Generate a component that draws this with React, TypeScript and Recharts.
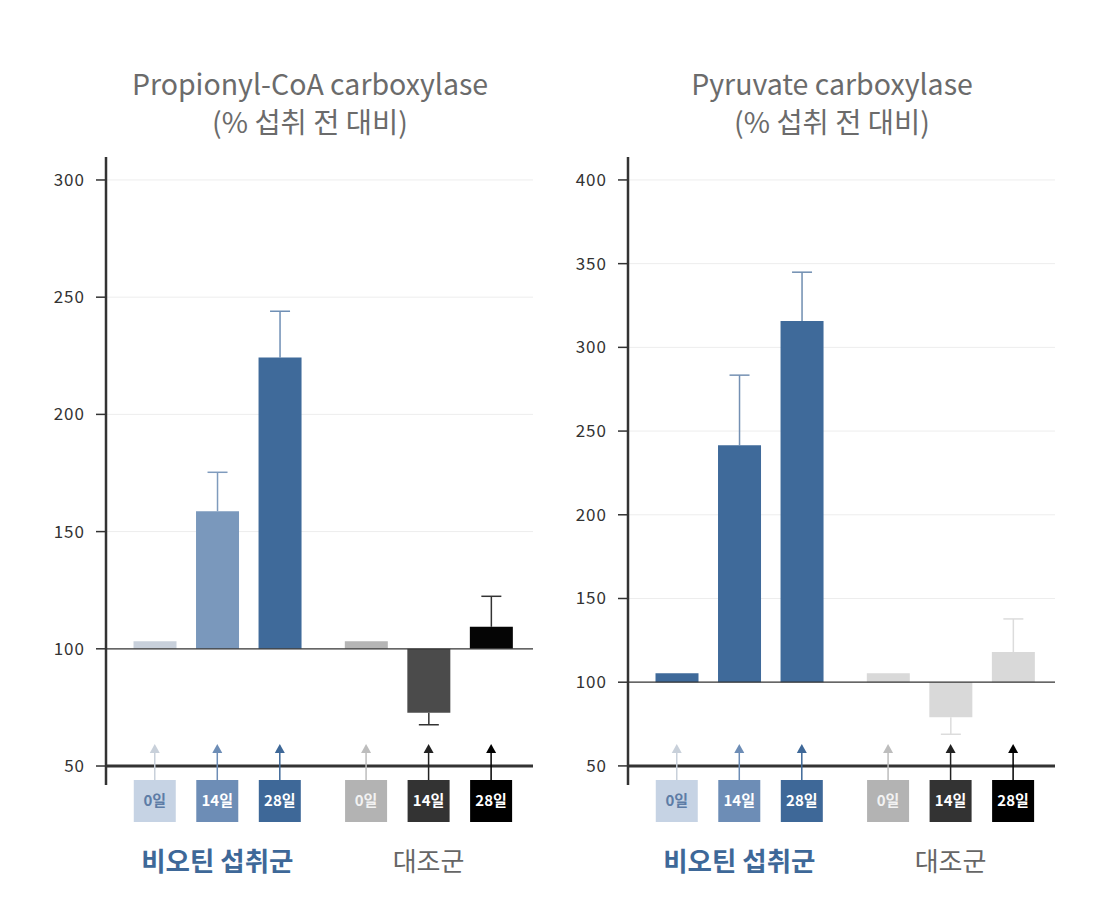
import React from "react";
import {
  BarChart,
  Bar,
  XAxis,
  YAxis,
  CartesianGrid,
  ReferenceLine,
  Cell,
} from "recharts";

const days = ["0일", "14일", "28일"];
const groups = ["비오틴 섭취군", "대조군"];

const propionylValues = [103.2, 158.7, 224.3, 103.2, 72.7, 109.4];
const propionylErrors = [0, 16.6, 19.7, 0, 5.1, 13.0];
const propionylTicks = [50, 100, 150, 200, 250, 300];

const pyruvateValues = [105.4, 241.6, 315.7, 105.4, 79.1, 118.0];
const pyruvateErrors = [0, 41.8, 29.2, 0, 10.2, 19.8];
const pyruvateTicks = [50, 100, 150, 200, 250, 300, 350, 400];

const BASE = 100;
const GROUP_STEP = 3.38;
const X_DOMAIN: [number, number] = [-0.78, 2 + GROUP_STEP + 0.67];
const FONT = "'Noto Sans CJK KR', 'Noto Sans', sans-serif";

const boxColors = ["#c6d3e4", "#6d8db6", "#3e6898", "#b3b3b3", "#333333", "#000000"];
const boxTextColors = ["#5d7ca6", "#ffffff", "#ffffff", "#f2f2f2", "#ffffff", "#ffffff"];
const arrowColors = ["#c8d0da", "#6d8db6", "#3e6898", "#bdbdbd", "#222222", "#000000"];

const buildRows = (values: number[], errors: number[]) =>
  values.map((v, i) => {
    const g = Math.floor(i / days.length);
    const d = i % days.length;
    const e = errors[i];
    return {
      idx: i,
      pos: g * GROUP_STEP + d,
      day: days[d],
      up: v >= BASE,
      range: [BASE, v],
      errRange: e > 0 ? [v, v >= BASE ? v + e : v - e] : null,
    };
  });

const DayTick = (props: any) => {
  const { x, y, index } = props;
  const g = Math.floor(index / days.length);
  const d = index % days.length;
  return (
    <g>
      <line x1={x} x2={x} y1={y - 4} y2={y - 33} stroke={arrowColors[index]} strokeWidth={1.5} />
      <path
        d={`M${x - 5},${y - 32} L${x},${y - 41} L${x + 5},${y - 32} Z`}
        fill={arrowColors[index]}
      />
      <rect x={x - 21} y={y - 5} width={42} height={42} fill={boxColors[index]} />
      <text
        x={x}
        y={y + 21}
        textAnchor="middle"
        fontSize={15}
        fontWeight={700}
        fontFamily={FONT}
        fill={boxTextColors[index]}
      >
        {days[d]}
      </text>
      {d === 1 && (
        <text
          x={x}
          y={y + 86}
          textAnchor="middle"
          fontSize={g === 0 ? 26.5 : 26}
          fontWeight={g === 0 ? 700 : 400}
          fontFamily={FONT}
          fill={g === 0 ? "#3e6898" : "#666666"}
        >
          {groups[g]}
        </text>
      )}
    </g>
  );
};

const ValueTick = (props: any) => {
  const { x, y, payload } = props;
  return (
    <text
      x={x}
      y={y}
      dy={6}
      textAnchor="end"
      fontSize={17}
      letterSpacing={1}
      fontFamily={FONT}
      fill="#333333"
    >
      {payload.value}
    </text>
  );
};

// whisker + cap drawn from the bar geometry of the error range
const makeWhisker = (errorColors: string[]) => (props: any) => {
  const { x, y, width, height, payload } = props;
  if (!payload || !payload.errRange || width == null) return <g />;
  const cx = x + width / 2;
  const y0 = Math.min(y, y + height);
  const y1 = Math.max(y, y + height);
  const capY = payload.up ? y0 : y1;
  const color = errorColors[payload.idx];
  return (
    <g>
      <line x1={cx} x2={cx} y1={y0} y2={y1} stroke={color} strokeWidth={1.5} />
      <line x1={cx - 10} x2={cx + 10} y1={capY} y2={capY} stroke={color} strokeWidth={1.5} />
    </g>
  );
};

type PanelProps = {
  left: number;
  title: string;
  values: number[];
  errors: number[];
  ticks: number[];
  domain: [number, number];
  barColors: string[];
  errorColors: string[];
};

const titleStyle: React.CSSProperties = {
  position: "absolute",
  width: 400,
  textAlign: "center",
  fontFamily: FONT,
  fontSize: 28.5,
  lineHeight: "34px",
  color: "#6b6b6b",
  whiteSpace: "nowrap",
};

const Panel = ({ left, title, values, errors, ticks, domain, barColors, errorColors }: PanelProps) => {
  const rows = buildRows(values, errors);
  return (
    <>
      <div style={{ ...titleStyle, left: left + 70, top: 66 }}>{title}</div>
      <div style={{ ...titleStyle, left: left + 70, top: 104 }}>(% 섭취 전 대비)</div>
      <div style={{ position: "absolute", left, top: 127 }}>
        <BarChart
          width={500}
          height={780}
          data={rows}
          margin={{ top: 30, right: 7, left: 0, bottom: 22 }}
        >
          <CartesianGrid
            vertical={false}
            horizontalValues={ticks.filter((t) => t > BASE)}
            stroke="#ededed"
          />
          <XAxis
            dataKey="pos"
            type="number"
            domain={X_DOMAIN}
            ticks={rows.map((r) => r.pos)}
            interval={0}
            axisLine={false}
            tickLine={false}
            tickSize={0}
            tickMargin={0}
            height={100}
            tick={<DayTick />}
          />
          <XAxis xAxisId="err" dataKey="pos" type="number" domain={X_DOMAIN} hide />
          <YAxis
            type="number"
            domain={domain}
            ticks={ticks}
            interval={0}
            width={66}
            allowDataOverflow
            axisLine={{ stroke: "#333333", strokeWidth: 2.5 }}
            tickLine={{ stroke: "#333333", strokeWidth: 1.5 }}
            tickSize={10}
            tickMargin={11}
            tick={<ValueTick />}
          />
          <Bar
            xAxisId="err"
            dataKey="errRange"
            barSize={43}
            shape={makeWhisker(errorColors)}
            isAnimationActive={false}
          />
          <Bar dataKey="range" barSize={43} isAnimationActive={false}>
            {rows.map((r) => (
              <Cell key={r.idx} fill={barColors[r.idx]} />
            ))}
          </Bar>
          <ReferenceLine y={BASE} stroke="#333333" strokeWidth={1.2} />
          <ReferenceLine y={50} stroke="#333333" strokeWidth={3} />
        </BarChart>
      </div>
    </>
  );
};

export default function App() {
  return (
    <div
      style={{
        position: "absolute",
        left: 0,
        top: 0,
        width: 1118,
        height: 911,
        background: "#ffffff",
        overflow: "hidden",
      }}
    >
      <Panel
        left={40}
        title="Propionyl-CoA carboxylase"
        values={propionylValues}
        errors={propionylErrors}
        ticks={propionylTicks}
        domain={[41.9, 309.8]}
        barColors={["#c8d0db", "#7a98bc", "#3f6a9a", "#b5b5b5", "#4b4b4b", "#050505"]}
        errorColors={["#c8d0db", "#7f9bbd", "#6f8fb5", "#b5b5b5", "#333333", "#333333"]}
      />
      <Panel
        left={562}
        title="Pyruvate carboxylase"
        values={pyruvateValues}
        errors={pyruvateErrors}
        ticks={pyruvateTicks}
        domain={[38.6, 413.7]}
        barColors={["#3f6a9a", "#3f6a9a", "#3f6a9a", "#d9d9d9", "#d9d9d9", "#d9d9d9"]}
        errorColors={["#3f6a9a", "#7490b3", "#6f8db0", "#d9d9d9", "#dcdcdc", "#dcdcdc"]}
      />
    </div>
  );
}
